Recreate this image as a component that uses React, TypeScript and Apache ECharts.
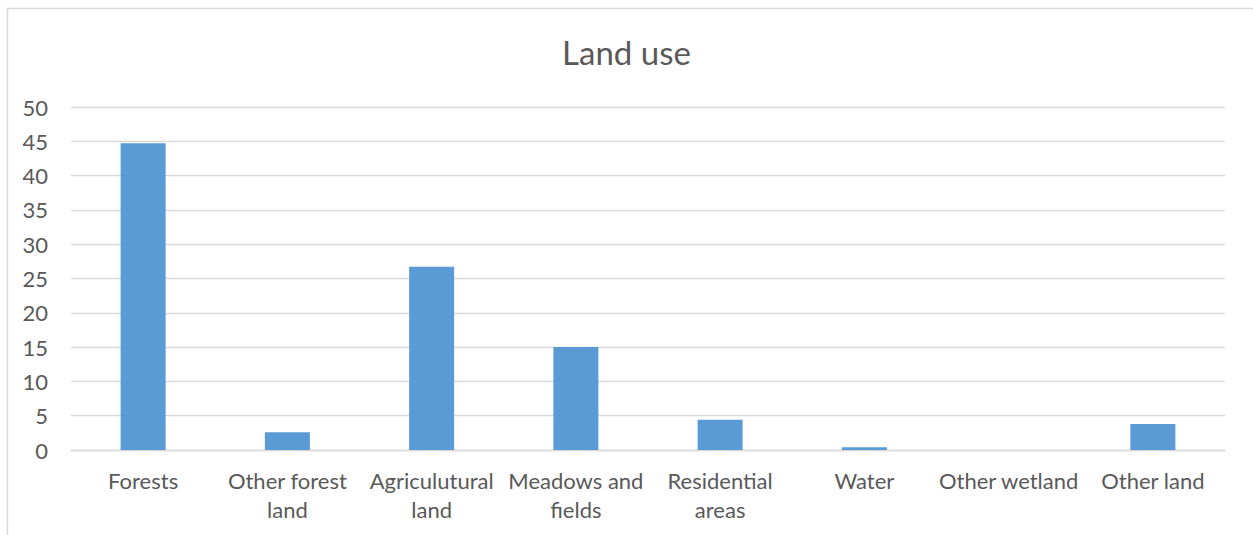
import React, { useEffect, useRef } from "react";
import * as echarts from "echarts";

// Land use shares by category
const categories = [
  "Forests",
  "Other forest\nland",
  "Agriculutural\nland",
  "Meadows and\nfields",
  "Residential\nareas",
  "Water",
  "Other wetland",
  "Other land",
];
const landUse = [44.7, 2.6, 26.7, 15.0, 4.4, 0.4, 0, 3.8];
const yTicks = { min: 0, max: 50, interval: 5 };

const FONT = "Lato, 'Open Sans', sans-serif";
const TEXT = "#595959";
const GRID = "#D9D9D9";

export default function App() {
  const ref = useRef<HTMLDivElement>(null);

  useEffect(() => {
    if (!ref.current) return;
    const chart = echarts.init(ref.current, undefined, { renderer: "svg" });
    chart.setOption({
      animation: false,
      backgroundColor: "#ffffff",
      textStyle: { fontFamily: FONT, color: TEXT },
      title: {
        text: "Land use",
        left: "center",
        top: 30,
        textStyle: { fontFamily: FONT, fontSize: 33, fontWeight: "normal", color: TEXT },
      },
      graphic: [
        {
          type: "rect",
          shape: { x: 7.5, y: 8.5, width: 1300, height: 600 },
          style: { fill: "none", stroke: GRID, lineWidth: 1.5 },
          silent: true,
        },
      ],
      grid: { left: 71, right: 28, top: 107, bottom: 85 },
      xAxis: {
        type: "category",
        data: categories,
        axisTick: { show: false },
        axisLine: { lineStyle: { color: GRID, width: 1.3 } },
        axisLabel: {
          interval: 0,
          margin: 16,
          fontSize: 22,
          lineHeight: 29,
          color: TEXT,
          fontFamily: FONT,
        },
      },
      yAxis: {
        type: "value",
        min: yTicks.min,
        max: yTicks.max,
        interval: yTicks.interval,
        axisLine: { show: false },
        axisTick: { show: false },
        splitLine: { lineStyle: { color: GRID, width: 1.3 } },
        axisLabel: { margin: 23, fontSize: 22, color: TEXT, fontFamily: FONT },
      },
      series: [
        {
          type: "bar",
          data: landUse,
          barWidth: 45,
          itemStyle: { color: "#5B9BD5" },
        },
      ],
    });
    return () => chart.dispose();
  }, []);

  return (
    <div
      ref={ref}
      style={{ position: "absolute", left: 0, top: 0, width: 1253, height: 535 }}
    />
  );
}
